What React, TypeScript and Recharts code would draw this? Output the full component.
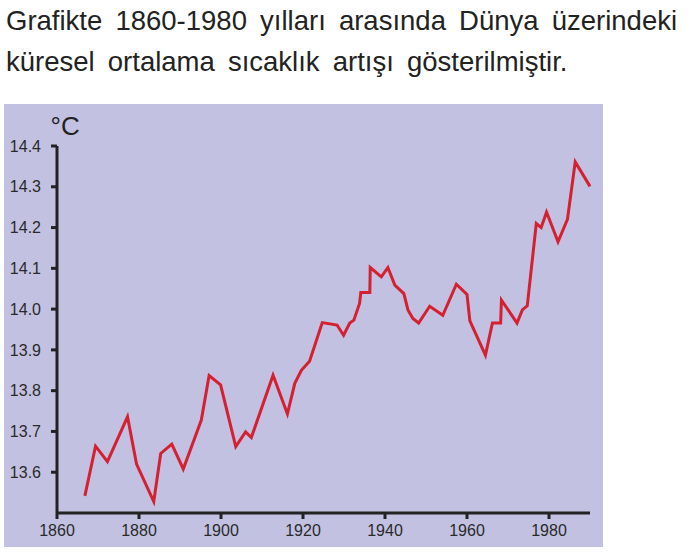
import React from 'react';
import { LineChart, Line, XAxis, YAxis } from 'recharts';

// yıllar ve küresel ortalama sıcaklık (°C)
const years = [
  1866.8, 1869.4, 1872.3, 1877.2, 1879.4, 1883.6, 1885.3, 1888, 1890.8, 1895.2,
  1897.1, 1899.9, 1903.6, 1906, 1907.4, 1912.7, 1916.2, 1918, 1919.6, 1921.6,
  1924.7, 1928.3, 1929.9, 1931.4, 1932.4, 1933.8, 1934.1, 1936.3, 1936.4, 1939.1,
  1940.7, 1942.4, 1944.6, 1945.6, 1946.8, 1948.2, 1950.9, 1954.1, 1957.4, 1960,
  1960.7, 1964.5, 1966.2, 1968.2, 1968.4, 1972.2, 1973.5, 1974.7, 1976.9, 1978.1,
  1979.4, 1982.2, 1984.5, 1986.4, 1990,
];
const temps = [
  13.542, 13.664, 13.626, 13.736, 13.62, 13.528, 13.646, 13.669, 13.608, 13.728,
  13.837, 13.814, 13.663, 13.699, 13.685, 13.838, 13.743, 13.818, 13.85, 13.872,
  13.967, 13.961, 13.936, 13.966, 13.973, 14.014, 14.041, 14.041, 14.102, 14.079,
  14.102, 14.059, 14.038, 13.998, 13.977, 13.966, 14.007, 13.985, 14.061, 14.036,
  13.971, 13.887, 13.966, 13.966, 14.022, 13.966, 13.998, 14.008, 14.21, 14.2,
  14.238, 14.165, 14.22, 14.361, 14.301,
];
const xTicks = [1860, 1880, 1900, 1920, 1940, 1960, 1980];
const yTicks = [13.6, 13.7, 13.8, 13.9, 14.0, 14.1, 14.2, 14.3, 14.4];

const data = years.map((y, i) => ({ year: y, temp: temps[i] }));

const font = 'Arial, "Liberation Sans", sans-serif';

export default function App() {
  return (
    <div style={{ position: 'absolute', left: 0, top: 0, width: 692, height: 557, background: '#fff', fontFamily: font }}>
      <div style={{ position: 'absolute', left: 6, top: 1, fontSize: 27.5, lineHeight: '40.5px', wordSpacing: 5.5, color: '#222', whiteSpace: 'nowrap' }}>
        Grafikte 1860-1980 yılları arasında Dünya üzerindeki
        <br />
        küresel ortalama sıcaklık artışı gösterilmiştir.
      </div>
      <div style={{ position: 'absolute', left: 4, top: 104, width: 599, height: 443, background: '#c2c1e1' }}>
        <LineChart width={599} height={443} data={data} margin={{ top: 42, right: 13, bottom: 0, left: 0 }}>
          <XAxis
            dataKey="year"
            type="number"
            domain={[1860, 1990]}
            ticks={xTicks}
            height={34}
            axisLine={{ stroke: '#222', strokeWidth: 3 }}
            tickLine={{ stroke: '#222', strokeWidth: 3 }}
            tickSize={6}
            tickMargin={6}
            tick={{ fill: '#2a2a2a', fontSize: 16, fontFamily: font }}
          />
          <YAxis
            type="number"
            domain={[13.5, 14.4]}
            ticks={yTicks}
            width={53}
            axisLine={{ stroke: '#222', strokeWidth: 3 }}
            tickLine={{ stroke: '#222', strokeWidth: 3 }}
            tickSize={6}
            tickMargin={10}
            tickFormatter={(v: number) => v.toFixed(1)}
            tick={{ fill: '#2a2a2a', fontSize: 16, fontFamily: font }}
            label={{
              content: (props: any) => {
                const vb = props.viewBox || {};
                return (
                  <text x={vb.x + vb.width - 6.5} y={vb.y - 11} fontSize={26} fontFamily={font} fill="#222">
                    °C
                  </text>
                );
              },
            }}
          />
          <Line
            type="linear"
            dataKey="temp"
            stroke="#d42030"
            strokeWidth={3}
            dot={false}
            isAnimationActive={false}
          />
        </LineChart>
      </div>
    </div>
  );
}
